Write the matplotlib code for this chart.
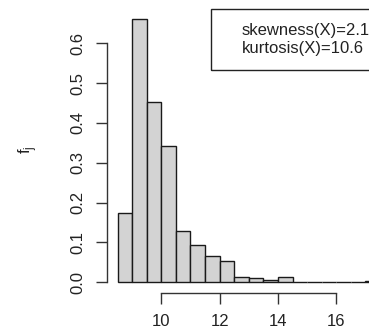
import numpy as np
import matplotlib
matplotlib.use("Agg")
import matplotlib.pyplot as plt
from matplotlib.patches import Rectangle

plt.rcParams['font.family'] = ['Liberation Sans', 'DejaVu Sans']
plt.rcParams['mathtext.fontset'] = 'custom'
plt.rcParams['mathtext.rm'] = 'Liberation Sans'

# histogram of X, density scale, bin width 0.5
bin_left = [8.5, 9.0, 9.5, 10.0, 10.5, 11.0, 11.5, 12.0, 12.5, 13.0, 13.5,
            14.0, 14.5, 15.0, 15.5, 16.0, 16.5, 17.0]
density = [0.173, 0.660, 0.453, 0.341, 0.130, 0.093, 0.065, 0.053, 0.013,
           0.010, 0.005, 0.013, 0.0, 0.0, 0.0, 0.0, 0.0, 0.004]
bin_width = 0.5
x_ticks = [10, 12, 14, 16]
y_ticks = [0.0, 0.1, 0.2, 0.3, 0.4, 0.5, 0.6]
stats_lines = ["skewness(X)=2.1", "kurtosis(X)=10.6"]

W, H = 369, 333
fig = plt.figure(figsize=(W / 100, H / 100), dpi=100)
ax = fig.add_axes([0, 0, 1, 1])

# pixel geometry of the plotting region
px_per_x = 29.17
x10_px = 161.3
y0_px = 282.3
px_per_y = 398.3
ax.set_xlim(10 - x10_px / px_per_x, 10 + (W - x10_px) / px_per_x)
ax.set_ylim(-(H - y0_px) / px_per_y, y0_px / px_per_y)

ax.bar(bin_left, density, width=bin_width, align='edge',
       color='#d3d3d3', edgecolor='#1a1a1a', linewidth=1.0)

# R-style detached axes
for s in ['top', 'right']:
    ax.spines[s].set_visible(False)
ax.spines['left'].set_position(('data', 10 - (x10_px - 107.3) / px_per_x))
ax.spines['left'].set_bounds(0, 0.6)
ax.spines['bottom'].set_position(('data', -(292.7 - y0_px) / px_per_y))
ax.spines['bottom'].set_bounds(10, 16)
for s in ['left', 'bottom']:
    ax.spines[s].set_color('#333333')
    ax.spines[s].set_linewidth(1.0)

ax.set_xticks(x_ticks)
ax.set_xticklabels([str(t) for t in x_ticks])
ax.set_yticks(y_ticks)
ax.set_yticklabels([f"{t:.1f}" for t in y_ticks], rotation=90, va='center')
ax.tick_params(direction='out', length=7.7, width=1.0, color='#333333',
               labelsize=12, labelcolor='#222222')
ax.tick_params(axis='x', pad=7.5)
ax.tick_params(axis='y', pad=8)
ax.patch.set_visible(False)

fig.text(28 / W, 1 - 150 / H, r'$\mathrm{f}_\mathrm{j}$', rotation=90,
         ha='center', va='center', fontsize=12, color='#222222')

# statistics box
box = Rectangle((211.3 / W, 1 - 70 / H), (W + 20 - 211.3) / W, (70 - 9) / H,
                transform=fig.transFigure, fill=False, edgecolor='#222222',
                linewidth=1.0, clip_on=False)
fig.add_artist(box)
for i, line in enumerate(stats_lines):
    fig.text(242 / W, 1 - (31 + 18 * i) / H, line, ha='left', va='center',
             fontsize=12, color='#222222')

fig.savefig("out.png", dpi=100)
